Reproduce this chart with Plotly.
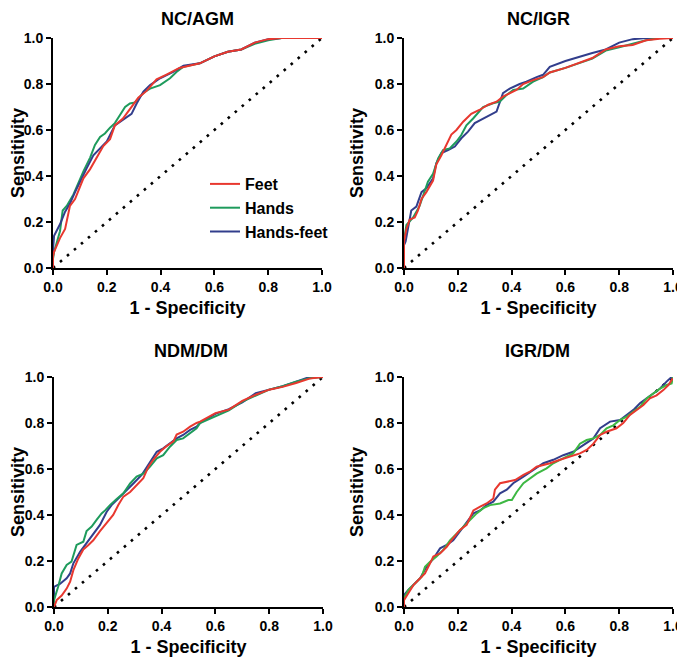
import plotly.graph_objects as go

# The page body has an 8px margin, so the figure is sized and laid out 8px in from the window edges.
OFF = 8
W, H = 685 - OFF, 659 - OFF

# ---------------- data ----------------
# Panel 1: NC/AGM
agm_feet_x = [0, 0, 0.004, 0.026, 0.045, 0.057, 0.063, 0.082, 0.10, 0.113, 0.138, 0.162, 0.187, 0.212, 0.23, 0.26, 0.286, 0.317, 0.348, 0.385, 0.42, 0.47, 0.546, 0.6, 0.65, 0.7, 0.75, 0.8, 0.85, 1.0]
agm_feet_y = [0, 0.05, 0.07, 0.13, 0.17, 0.23, 0.27, 0.30, 0.35, 0.39, 0.43, 0.48, 0.53, 0.56, 0.62, 0.65, 0.69, 0.74, 0.77, 0.82, 0.84, 0.87, 0.89, 0.92, 0.94, 0.95, 0.98, 0.995, 1.0, 1.0]
agm_hands_x = [0, 0, 0.004, 0.014, 0.026, 0.036, 0.051, 0.076, 0.10, 0.113, 0.138, 0.156, 0.175, 0.193, 0.212, 0.23, 0.249, 0.268, 0.286, 0.305, 0.323, 0.342, 0.361, 0.398, 0.435, 0.46, 0.485, 0.546, 0.6, 0.65, 0.7, 0.75, 0.8, 0.85, 1.0]
agm_hands_y = [0, 0.04, 0.07, 0.11, 0.16, 0.25, 0.27, 0.32, 0.39, 0.42, 0.48, 0.535, 0.57, 0.585, 0.61, 0.63, 0.665, 0.70, 0.715, 0.72, 0.745, 0.767, 0.78, 0.795, 0.825, 0.853, 0.875, 0.89, 0.92, 0.94, 0.95, 0.975, 0.99, 1.0, 1.0]
agm_hf_x = [0, 0, 0.004, 0.014, 0.026, 0.045, 0.063, 0.082, 0.10, 0.125, 0.15, 0.175, 0.2, 0.23, 0.261, 0.292, 0.311, 0.336, 0.361, 0.398, 0.447, 0.485, 0.546, 0.6, 0.65, 0.7, 0.75, 0.8, 0.85, 1.0]
agm_hf_y = [0, 0.08, 0.14, 0.16, 0.19, 0.245, 0.28, 0.33, 0.375, 0.433, 0.49, 0.52, 0.55, 0.62, 0.645, 0.67, 0.715, 0.767, 0.795, 0.825, 0.853, 0.88, 0.89, 0.92, 0.94, 0.95, 0.98, 0.995, 1.0, 1.0]

# Panel 2: NC/IGR
igr_feet_x = [0, 0, 0.009, 0.021, 0.04, 0.052, 0.065, 0.083, 0.108, 0.12, 0.139, 0.158, 0.176, 0.195, 0.22, 0.25, 0.28, 0.313, 0.344, 0.368, 0.393, 0.418, 0.443, 0.48, 0.517, 0.542, 0.6, 0.7, 0.75, 0.8, 0.85, 0.9, 0.95, 1.0]
igr_feet_y = [0, 0.115, 0.17, 0.21, 0.22, 0.25, 0.30, 0.33, 0.38, 0.45, 0.49, 0.535, 0.58, 0.60, 0.636, 0.67, 0.687, 0.71, 0.723, 0.745, 0.76, 0.774, 0.80, 0.817, 0.83, 0.85, 0.87, 0.913, 0.95, 0.964, 0.97, 0.99, 0.997, 1.0]
igr_hands_x = [0, 0, 0.009, 0.034, 0.058, 0.089, 0.108, 0.127, 0.145, 0.17, 0.195, 0.213, 0.232, 0.257, 0.294, 0.331, 0.356, 0.381, 0.406, 0.443, 0.48, 0.517, 0.542, 0.6, 0.7, 0.75, 0.8, 0.85, 0.9, 0.95, 1.0]
igr_hands_y = [0, 0.12, 0.187, 0.22, 0.27, 0.375, 0.41, 0.477, 0.513, 0.52, 0.55, 0.578, 0.62, 0.65, 0.70, 0.716, 0.723, 0.752, 0.774, 0.78, 0.81, 0.83, 0.85, 0.87, 0.91, 0.945, 0.96, 0.975, 0.99, 1.0, 1.0]
igr_hf_x = [0, 0, 0.006, 0.015, 0.027, 0.046, 0.065, 0.083, 0.108, 0.12, 0.139, 0.164, 0.189, 0.213, 0.238, 0.263, 0.294, 0.344, 0.368, 0.393, 0.43, 0.455, 0.493, 0.517, 0.542, 0.6, 0.7, 0.75, 0.8, 0.85, 0.9, 1.0]
igr_hf_y = [0, 0.10, 0.115, 0.18, 0.25, 0.267, 0.33, 0.346, 0.39, 0.455, 0.50, 0.513, 0.528, 0.564, 0.593, 0.63, 0.65, 0.68, 0.76, 0.78, 0.80, 0.81, 0.83, 0.84, 0.875, 0.90, 0.935, 0.95, 0.98, 0.995, 1.0, 1.0]

# Panel 3: NDM/DM
ndm_feet_x = [0, 0.01, 0.0285, 0.047, 0.06, 0.072, 0.09, 0.109, 0.128, 0.146, 0.171, 0.196, 0.22, 0.239, 0.258, 0.283, 0.307, 0.332, 0.351, 0.369, 0.394, 0.419, 0.444, 0.456, 0.48, 0.506, 0.53, 0.543, 0.6, 0.65, 0.7, 0.75, 0.8, 0.85, 0.9, 0.95, 1.0]
ndm_feet_y = [0, 0.03, 0.05, 0.08, 0.11, 0.16, 0.21, 0.25, 0.27, 0.29, 0.33, 0.364, 0.40, 0.443, 0.48, 0.50, 0.53, 0.56, 0.61, 0.64, 0.675, 0.70, 0.72, 0.75, 0.762, 0.784, 0.80, 0.806, 0.843, 0.858, 0.896, 0.923, 0.945, 0.957, 0.974, 0.993, 1.0]
ndm_hands_x = [0, 0, 0.016, 0.0285, 0.047, 0.065, 0.084, 0.109, 0.121, 0.14, 0.159, 0.177, 0.19, 0.208, 0.233, 0.258, 0.283, 0.307, 0.332, 0.357, 0.382, 0.406, 0.431, 0.456, 0.48, 0.506, 0.53, 0.543, 0.6, 0.65, 0.7, 0.75, 0.8, 0.85, 0.9, 0.95, 1.0]
ndm_hands_y = [0, 0.03, 0.09, 0.146, 0.183, 0.197, 0.27, 0.284, 0.33, 0.35, 0.38, 0.407, 0.42, 0.443, 0.47, 0.494, 0.537, 0.567, 0.58, 0.61, 0.646, 0.66, 0.697, 0.726, 0.733, 0.755, 0.777, 0.80, 0.83, 0.855, 0.893, 0.92, 0.945, 0.96, 0.98, 0.995, 1.0]
ndm_hf_x = [0, 0, 0.022, 0.047, 0.06, 0.072, 0.097, 0.121, 0.146, 0.171, 0.196, 0.214, 0.239, 0.264, 0.295, 0.326, 0.351, 0.382, 0.406, 0.431, 0.456, 0.48, 0.506, 0.53, 0.543, 0.6, 0.65, 0.7, 0.75, 0.8, 0.85, 0.9, 0.95, 1.0]
ndm_hf_y = [0, 0.088, 0.10, 0.125, 0.146, 0.19, 0.24, 0.277, 0.32, 0.357, 0.414, 0.443, 0.472, 0.50, 0.537, 0.574, 0.617, 0.675, 0.69, 0.71, 0.733, 0.748, 0.77, 0.784, 0.80, 0.84, 0.86, 0.89, 0.93, 0.945, 0.96, 0.98, 1.0, 1.0]

# Panel 4: IGR/DM
dm_feet_x = [0, 0, 0.016, 0.035, 0.06, 0.078, 0.097, 0.109, 0.134, 0.159, 0.183, 0.208, 0.233, 0.258, 0.283, 0.307, 0.332, 0.338, 0.357, 0.382, 0.413, 0.444, 0.468, 0.493, 0.518, 0.543, 0.58, 0.617, 0.654, 0.679, 0.704, 0.729, 0.753, 0.79, 0.815, 0.84, 0.865, 0.89, 0.914, 0.939, 0.964, 0.983, 0.999]
dm_feet_y = [0, 0.03, 0.06, 0.095, 0.125, 0.146, 0.19, 0.22, 0.233, 0.262, 0.30, 0.335, 0.357, 0.42, 0.436, 0.45, 0.472, 0.51, 0.538, 0.545, 0.552, 0.574, 0.588, 0.61, 0.617, 0.625, 0.64, 0.654, 0.668, 0.683, 0.71, 0.748, 0.762, 0.777, 0.80, 0.835, 0.857, 0.878, 0.907, 0.92, 0.943, 0.965, 0.994]
dm_hands_x = [0, 0, 0.016, 0.041, 0.066, 0.078, 0.097, 0.121, 0.146, 0.171, 0.196, 0.221, 0.245, 0.27, 0.295, 0.32, 0.357, 0.388, 0.401, 0.419, 0.444, 0.468, 0.493, 0.53, 0.555, 0.58, 0.605, 0.629, 0.654, 0.679, 0.704, 0.729, 0.753, 0.778, 0.803, 0.828, 0.853, 0.877, 0.902, 0.927, 0.952, 0.976, 0.995, 1.0]
dm_hands_y = [0, 0.038, 0.074, 0.103, 0.132, 0.175, 0.197, 0.22, 0.248, 0.29, 0.32, 0.35, 0.378, 0.407, 0.43, 0.443, 0.45, 0.465, 0.465, 0.50, 0.538, 0.56, 0.58, 0.603, 0.625, 0.64, 0.654, 0.668, 0.71, 0.726, 0.733, 0.748, 0.777, 0.79, 0.813, 0.828, 0.85, 0.87, 0.907, 0.929, 0.95, 0.965, 0.972, 1.0]
dm_hf_x = [0, 0, 0.016, 0.035, 0.06, 0.084, 0.109, 0.134, 0.159, 0.183, 0.202, 0.233, 0.258, 0.283, 0.307, 0.332, 0.357, 0.382, 0.406, 0.444, 0.481, 0.518, 0.555, 0.592, 0.629, 0.667, 0.704, 0.729, 0.766, 0.803, 0.828, 0.853, 0.877, 0.902, 0.927, 0.952, 0.976, 0.995]
dm_hf_y = [0, 0.052, 0.074, 0.095, 0.125, 0.175, 0.21, 0.255, 0.27, 0.29, 0.32, 0.364, 0.407, 0.42, 0.443, 0.458, 0.494, 0.51, 0.538, 0.567, 0.596, 0.625, 0.64, 0.66, 0.675, 0.704, 0.733, 0.777, 0.806, 0.813, 0.835, 0.857, 0.886, 0.907, 0.929, 0.95, 0.98, 1.0]

panel_titles = ["NC/AGM", "NC/IGR", "NDM/DM", "IGR/DM"]
series_names = ["Feet", "Hands", "Hands-feet"]
ticks = [0.0, 0.2, 0.4, 0.6, 0.8, 1.0]
tick_text = ["0.0", "0.2", "0.4", "0.6", "0.8", "1.0"]
diag = [0.0, 1.0]

panels = [
    [(agm_feet_x, agm_feet_y), (agm_hands_x, agm_hands_y), (agm_hf_x, agm_hf_y)],
    [(igr_feet_x, igr_feet_y), (igr_hands_x, igr_hands_y), (igr_hf_x, igr_hf_y)],
    [(ndm_feet_x, ndm_feet_y), (ndm_hands_x, ndm_hands_y), (ndm_hf_x, ndm_hf_y)],
    [(dm_feet_x, dm_feet_y), (dm_hands_x, dm_hands_y), (dm_hf_x, dm_hf_y)],
]

# ---------------- styling ----------------
RED = "#E8382F"
GREEN = "#1E9B5C"
GREEN_LIGHT = "#3DB843"
NAVY = "#323E8C"
FONT = "Liberation Sans, Arial, sans-serif"

# plot areas in window pixels: (left, right, top, bottom)
areas = [(53, 322, 38, 268), (404, 673, 38, 268), (54, 323, 377, 607), (404, 673, 377, 607)]
# title centre x and top y in window pixels
title_pos = [(198, 8), (538, 8), (191, 340), (537, 340)]


def px(v):
    return (v - OFF) / W


def py(v):
    return 1 - (v - OFF) / H


fig = go.Figure()

for i, curves in enumerate(panels):
    ax = "" if i == 0 else str(i + 1)
    xref, yref = "x" + ax, "y" + ax
    # diagonal reference line
    fig.add_trace(go.Scatter(x=diag, y=diag, xaxis=xref, yaxis=yref, mode="lines",
                             line=dict(color="black", width=2.6, dash="2.6px,6.6px"),
                             showlegend=False, hoverinfo="skip"))
    cols = [RED, GREEN_LIGHT if i == 3 else GREEN, NAVY]
    order = [2, 1, 0] if i in (1, 2, 3) else [1, 2, 0]
    for k in order:
        cx, cy = curves[k]
        fig.add_trace(go.Scatter(x=cx, y=cy, xaxis=xref, yaxis=yref, mode="lines",
                                 line=dict(color=cols[k], width=2),
                                 name=series_names[k], legendrank=k + 1,
                                 showlegend=(i == 0)))

layout = dict(
    width=W, height=H, margin=dict(l=0, r=0, t=0, b=0, autoexpand=False),
    plot_bgcolor="white", paper_bgcolor="white",
    font=dict(family=FONT, color="black"),
    legend=dict(x=px(205), y=py(167), xanchor="left", yanchor="top",
                font=dict(size=16, family=FONT, color="black", weight="bold"),
                bgcolor="rgba(0,0,0,0)", traceorder="normal", itemwidth=30,
                tracegroupgap=0),
    annotations=[],
)

for i, (l, r, t, b) in enumerate(areas):
    ax = "" if i == 0 else str(i + 1)
    common = dict(range=[0, 1], showline=True, linecolor="black", linewidth=2,
                  ticks="outside", ticklen=5, tickwidth=2, tickcolor="black",
                  tickvals=ticks, ticktext=tick_text, showgrid=False, zeroline=False,
                  tickfont=dict(size=14, family=FONT, color="black", weight="bold"),
                  fixedrange=True, automargin=False)
    layout["xaxis" + ax] = dict(common, domain=[px(l), px(r)], anchor="y" + ax,
                                title=dict(text="1 - Specificity", standoff=8,
                                           font=dict(size=18, family=FONT, weight="bold")))
    layout["yaxis" + ax] = dict(common, domain=[py(b), py(t)], anchor="x" + ax,
                                title=dict(text="Sensitivity", standoff=6,
                                           font=dict(size=18, family=FONT, weight="bold")))
    tx, ty = title_pos[i]
    layout["annotations"].append(dict(text=panel_titles[i], x=px(tx), y=py(ty),
                                      xref="paper", yref="paper", showarrow=False,
                                      xanchor="center", yanchor="top", borderpad=0,
                                      font=dict(size=18, family=FONT, weight="bold")))

fig.update_layout(**layout)
fig.write_html("out.html")
